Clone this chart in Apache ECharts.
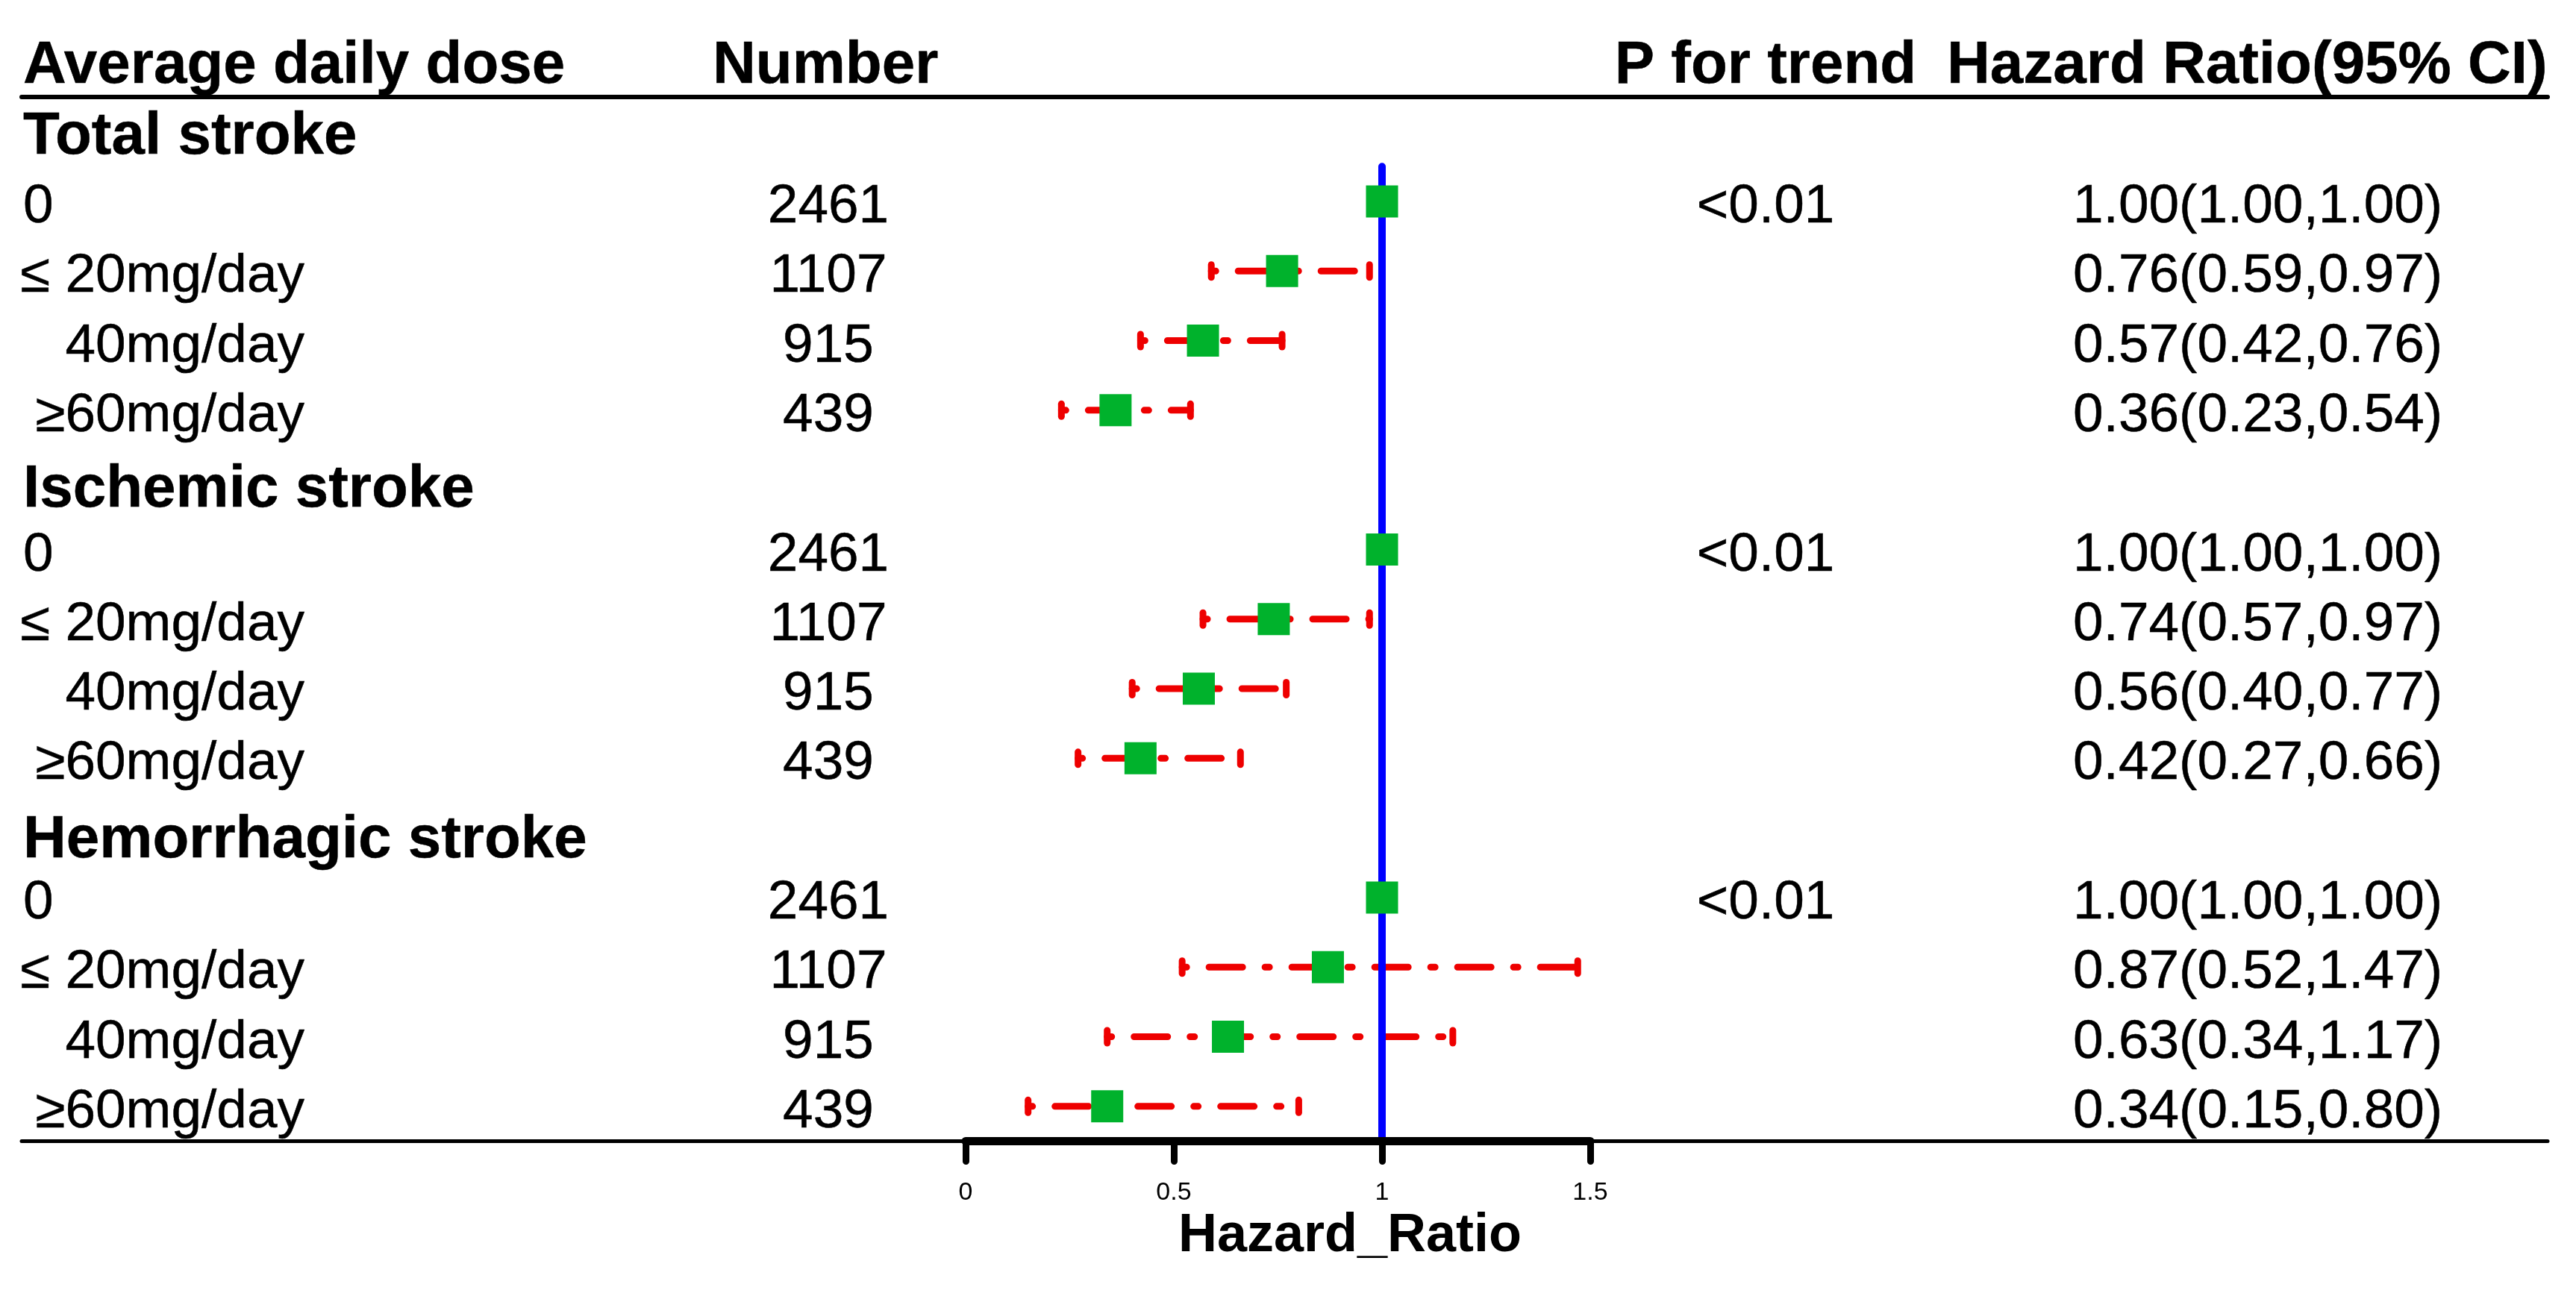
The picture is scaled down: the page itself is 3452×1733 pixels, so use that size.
<!DOCTYPE html>
<html><head><meta charset="utf-8">
<script src="https://cdn.jsdelivr.net/npm/echarts@6/dist/echarts.min.js"></script>
<style>html,body{margin:0;padding:0;background:#fff}#c{width:3452px;height:1733px}</style>
</head><body><div id="c"></div>
<script>
// ---------------- data ----------------
const headers = ['Average daily dose', 'Number', 'P for trend', 'Hazard Ratio(95% CI)'];
const groupTitles = ['Total stroke', 'Ischemic stroke', 'Hemorrhagic stroke'];
const doseLabels = ['0', '\u2264 20mg/day', '40mg/day', '\u226560mg/day'];
const numbers = ['2461', '1107', '915', '439'];
const pTrend = ['<0.01', '<0.01', '<0.01'];
const hrValues = [[1.00, 0.76, 0.57, 0.36], [1.00, 0.74, 0.56, 0.42], [1.00, 0.87, 0.63, 0.34]];
const hrLower  = [[1.00, 0.59, 0.42, 0.23], [1.00, 0.57, 0.40, 0.27], [1.00, 0.52, 0.34, 0.15]];
const hrUpper  = [[1.00, 0.97, 0.76, 0.54], [1.00, 0.97, 0.77, 0.66], [1.00, 1.47, 1.17, 0.80]];
const xTicks = [0, 0.5, 1, 1.5];
const refValue = 1;
const axisTitle = 'Hazard_Ratio';

// ---------------- layout / style ----------------
const FONT = '"Liberation Sans", Arial, Helvetica, sans-serif';
const RED = '#EE0000', GREEN = '#00B22C', BLUE = '#0000FF';
const K_MIN = -0.5, K_MAX = 14.5;
const GRID_TOP = 130, GRID_BOTTOM = 203.5;
const PLOT_LEFT = 1294, PLOT_RIGHT = 3452 - 2131;
const LINE_LEFT = 29, LINE_RIGHT = 3414;
const COL_LEFT = 31, DOSE_RIGHT = 408, NUM_HEAD_LEFT = 955, NUM_CENTER = 1110;
const P_CENTER = 2366, HR_HEAD_LEFT = 2609, HR_LEFT = 2778;
const titleOffsets = [7, 14, 17];
const ROW_DY = 8, HEAD_DY = 6;
const BODY = 73, BOLD = 80;

function rowK(g, i) { return g * 5 + 1 + i; }

const boldText = [], bodyText = [];
function addText(target, x, k, text, align, dy) {
  target.push({
    value: [x, k],
    label: {formatter: text, align: align, offset: [0, dy]}
  });
}
// header row
addText(boldText, COL_LEFT, -1, headers[0], 'left', HEAD_DY);
addText(boldText, NUM_HEAD_LEFT, -1, headers[1], 'left', HEAD_DY);
addText(boldText, P_CENTER, -1, headers[2], 'center', HEAD_DY);
addText(boldText, HR_HEAD_LEFT, -1, headers[3], 'left', HEAD_DY);

const ciData = [], markerData = [];
groupTitles.forEach(function (title, g) {
  addText(boldText, COL_LEFT, g * 5, title, 'left', titleOffsets[g]);
  doseLabels.forEach(function (lab, i) {
    const k = rowK(g, i);
    if (i === 0) addText(bodyText, COL_LEFT, k, lab, 'left', ROW_DY);
    else addText(bodyText, DOSE_RIGHT, k, lab, 'right', ROW_DY);
    addText(bodyText, NUM_CENTER, k, numbers[i], 'center', ROW_DY);
    if (i === 0) addText(bodyText, P_CENTER, k, pTrend[g], 'center', ROW_DY);
    const hrText = hrValues[g][i].toFixed(2) + '(' + hrLower[g][i].toFixed(2) + ',' + hrUpper[g][i].toFixed(2) + ')';
    addText(bodyText, HR_LEFT, k, hrText, 'left', ROW_DY);
    ciData.push([k, hrLower[g][i], hrUpper[g][i]]);
    markerData.push([hrValues[g][i], k]);
  });
});

function textSeries(data, size, weight) {
  return {
    type: 'scatter', xAxisIndex: 1, yAxisIndex: 1, symbolSize: 0, silent: true, clip: false, z: 10,
    itemStyle: {color: '#000000', opacity: 1},
    label: {
      show: true, position: [0, 0], verticalAlign: 'middle', color: '#000000',
      fontFamily: FONT, fontSize: size, fontWeight: weight,
      textBorderColor: '#000000', textBorderWidth: 0.5
    },
    data: data
  };
}

const chart = echarts.init(document.getElementById('c'), null, {renderer: 'canvas', width: 3452, height: 1733});

const option = {
  backgroundColor: '#ffffff',
  animation: false,
  textStyle: {color: '#000000'},
  grid: [
    {left: PLOT_LEFT, right: PLOT_RIGHT, top: GRID_TOP, bottom: GRID_BOTTOM},
    {left: LINE_LEFT, right: 3452 - LINE_RIGHT, top: GRID_TOP, bottom: GRID_BOTTOM}
  ],
  xAxis: [
    {
      type: 'value', gridIndex: 0, min: xTicks[0], max: xTicks[xTicks.length - 1], interval: 0.5,
      position: 'bottom', z: 5,
      name: axisTitle, nameLocation: 'middle', nameGap: 92,
      nameTextStyle: {fontFamily: FONT, fontSize: 72, fontWeight: 'bold', color: '#000', padding: [0, 0, 0, 193]},
      axisLine: {show: true, onZero: false, lineStyle: {color: '#000', width: 11}},
      axisTick: {show: true, length: 27, lineStyle: {color: '#000', width: 9, cap: 'round'}},
      axisLabel: {show: true, margin: 52, fontFamily: FONT, fontSize: 34, color: '#000',
        formatter: function (v) { return xTicks.indexOf(v) >= 0 ? String(v) : ''; }},
      splitLine: {show: false}
    },
    {
      type: 'value', gridIndex: 1, min: LINE_LEFT, max: LINE_RIGHT, position: 'bottom',
      axisLine: {show: true, onZero: false, lineStyle: {color: '#000', width: 5}},
      axisTick: {show: false}, axisLabel: {show: false}, splitLine: {show: false}
    },
    {
      type: 'value', gridIndex: 1, min: LINE_LEFT, max: LINE_RIGHT, position: 'top',
      axisLine: {show: true, onZero: false, lineStyle: {color: '#000', width: 6}},
      axisTick: {show: false}, axisLabel: {show: false}, splitLine: {show: false}
    }
  ],
  yAxis: [
    {type: 'value', gridIndex: 0, inverse: true, min: K_MIN, max: K_MAX, show: false},
    {type: 'value', gridIndex: 1, inverse: true, min: K_MIN, max: K_MAX, show: false}
  ],
  series: [
    textSeries(boldText, BOLD, 'bold'),
    textSeries(bodyText, BODY, 'normal'),
    {
      type: 'custom', xAxisIndex: 0, yAxisIndex: 0, silent: true, clip: false, z: 2,
      encode: {x: [1, 2], y: 0},
      data: ciData,
      renderItem: function (params, api) {
        const k = api.value(0), lo = api.value(1), hi = api.value(2);
        const pL = api.coord([lo, k]), pH = api.coord([hi, k]);
        const capH = 8.5;
        return {
          type: 'group', children: [
            {type: 'line', shape: {x1: pL[0], y1: pL[1], x2: pH[0], y2: pH[1]},
              style: {stroke: RED, lineWidth: 9, lineDash: [6, 30, 45, 30], lineCap: 'round', fill: null}},
            {type: 'line', shape: {x1: pL[0], y1: pL[1] - capH, x2: pL[0], y2: pL[1] + capH},
              style: {stroke: RED, lineWidth: 9, lineCap: 'round', fill: null}},
            {type: 'line', shape: {x1: pH[0], y1: pH[1] - capH, x2: pH[0], y2: pH[1] + capH},
              style: {stroke: RED, lineWidth: 9, lineCap: 'round', fill: null}}
          ]
        };
      }
    },
    {
      type: 'line', xAxisIndex: 0, yAxisIndex: 0, silent: true, z: 3, symbol: 'none',
      data: [[refValue, 0.5], [refValue, K_MAX]],
      lineStyle: {color: BLUE, width: 10, cap: 'round'}
    },
    {
      type: 'scatter', xAxisIndex: 0, yAxisIndex: 0, silent: true, z: 4, clip: false,
      symbol: 'rect', symbolSize: 43, itemStyle: {color: GREEN, opacity: 1},
      data: markerData
    }
  ]
};
chart.setOption(option);
</script>
</body></html>
